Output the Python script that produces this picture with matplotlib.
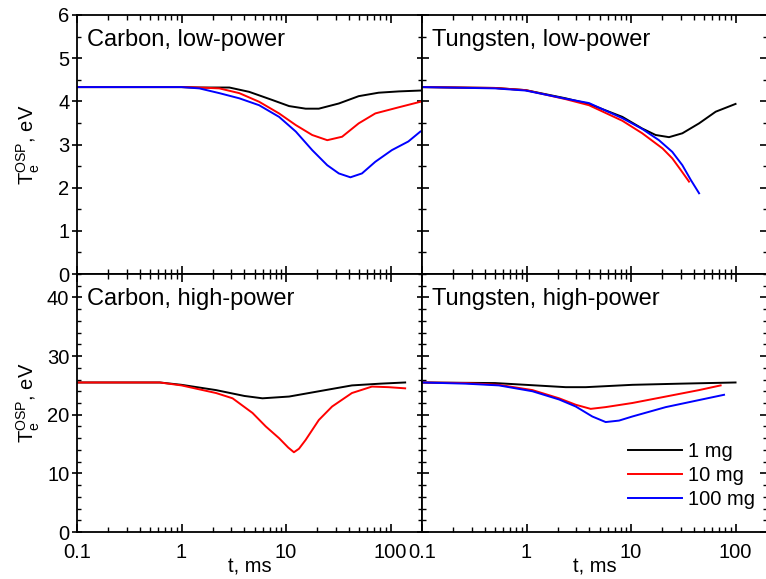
import matplotlib
matplotlib.use("Agg")
import matplotlib.pyplot as plt
from matplotlib.ticker import LogLocator, FixedLocator, MultipleLocator, NullFormatter, FixedFormatter

plt.rcParams['font.family'] = ['Liberation Sans', 'DejaVu Sans']
plt.rcParams['mathtext.fontset'] = 'custom'
plt.rcParams['mathtext.rm'] = 'Liberation Sans'
plt.rcParams['mathtext.it'] = 'Liberation Sans:italic'

labels = ["1 mg", "10 mg", "100 mg"]
colors = ["#000000", "#ff0000", "#0000ff"]

# Carbon, low-power
cl_t1 = [0.1, 1.0, 1.48, 2.87, 4.44, 7.41, 10.7, 15.4, 20.6, 32, 49.6, 76.9, 120, 193]
cl_T1 = [4.33, 4.33, 4.32, 4.32, 4.22, 4.03, 3.89, 3.83, 3.83, 3.95, 4.12, 4.20, 4.23, 4.25]
cl_t2 = [0.1, 1.0, 1.48, 2.30, 3.57, 5.53, 8.58, 12.4, 17.8, 24.8, 34.4, 49.6, 71.5, 119, 193]
cl_T2 = [4.33, 4.33, 4.32, 4.30, 4.19, 3.99, 3.72, 3.45, 3.22, 3.10, 3.18, 3.49, 3.72, 3.86, 3.99]
cl_t3 = [0.1, 1.0, 1.48, 2.30, 3.57, 5.53, 8.58, 12.4, 17.8, 24.8, 32, 41.3, 53.3, 71.5, 103, 148, 193]
cl_T3 = [4.33, 4.33, 4.30, 4.19, 4.07, 3.91, 3.64, 3.30, 2.87, 2.52, 2.33, 2.24, 2.33, 2.60, 2.87, 3.07, 3.30]

# Tungsten, low-power
wl_t1 = [0.1, 0.5, 0.98, 2.37, 3.96, 8.26, 12.8, 17.2, 23.1, 31.0, 44.8, 64.6, 100]
wl_T1 = [4.33, 4.31, 4.26, 4.07, 3.94, 3.64, 3.37, 3.22, 3.17, 3.26, 3.49, 3.76, 3.94]
wl_t2 = [0.1, 0.5, 0.98, 2.37, 3.96, 8.26, 12.8, 20.0, 24.8, 29.9, 35.9]
wl_T2 = [4.33, 4.31, 4.26, 4.05, 3.91, 3.55, 3.26, 2.91, 2.68, 2.41, 2.14]
wl_t3 = [0.1, 0.5, 0.98, 2.37, 3.96, 8.26, 12.8, 18.5, 24.8, 31.0, 37.3, 44.8]
wl_T3 = [4.33, 4.30, 4.25, 4.06, 3.96, 3.61, 3.36, 3.10, 2.83, 2.52, 2.18, 1.87]

# Carbon, high-power
ch_t1 = [0.1, 0.62, 1.0, 2.14, 4.0, 5.95, 10.7, 20.6, 42.7, 80, 138]
ch_T1 = [25.5, 25.5, 25.1, 24.2, 23.2, 22.8, 23.1, 24.0, 25.0, 25.3, 25.5]
ch_t2 = [0.1, 0.62, 1.0, 2.14, 3.08, 4.78, 6.4, 8.58, 10.5, 11.9, 13.3, 15.4, 20.6, 27.6, 42.7, 66.4, 95.7, 138]
ch_T2 = [25.5, 25.5, 25.0, 23.7, 22.8, 20.3, 18.0, 16.0, 14.4, 13.6, 14.2, 15.7, 19.1, 21.4, 23.7, 24.8, 24.7, 24.5]

# Tungsten, high-power
wh_t1 = [0.1, 0.5, 0.98, 2.37, 3.69, 10.3, 30.0, 100]
wh_T1 = [25.5, 25.4, 25.1, 24.7, 24.7, 25.1, 25.3, 25.5]
wh_t2 = [0.1, 0.262, 0.545, 1.14, 2.05, 2.96, 4.11, 5.72, 10.3, 21.5, 44.7, 72]
wh_T2 = [25.5, 25.4, 25.1, 24.2, 22.8, 21.7, 21.0, 21.3, 22.0, 23.1, 24.2, 25.0]
wh_t3 = [0.1, 0.262, 0.545, 1.14, 2.05, 2.96, 4.26, 5.72, 7.68, 10.3, 21.5, 44.7, 77.6]
wh_T3 = [25.5, 25.3, 25.0, 24.0, 22.6, 21.4, 19.7, 18.75, 19.0, 19.7, 21.3, 22.5, 23.4]

titles = ["Carbon, low-power", "Tungsten, low-power", "Carbon, high-power", "Tungsten, high-power"]
xticks = [0.1, 1, 10, 100]
xticklabels = ["0.1", "1", "10", "100"]

W, H = 766, 579
fig = plt.figure(figsize=(W / 100, H / 100), dpi=100)

def frac(x0, y0, x1, y1):
    return [x0 / W, 1 - y1 / H, (x1 - x0) / W, (y1 - y0) / H]

axes = [
    fig.add_axes(frac(77, 15, 422, 274)),
    fig.add_axes(frac(422, 15, 767, 274)),
    fig.add_axes(frac(77, 274, 422, 532)),
    fig.add_axes(frac(422, 274, 767, 532)),
]

data = [
    [(cl_t1, cl_T1), (cl_t2, cl_T2), (cl_t3, cl_T3)],
    [(wl_t1, wl_T1), (wl_t2, wl_T2), (wl_t3, wl_T3)],
    [(ch_t1, ch_T1), (ch_t2, ch_T2)],
    [(wh_t1, wh_T1), (wh_t2, wh_T2), (wh_t3, wh_T3)],
]

ylabel = r'$\mathregular{T_e^{OSP}}$, eV'

for i, ax in enumerate(axes):
    for j, (t, T) in enumerate(data[i]):
        ax.plot(t, T, color=colors[j], lw=1.4, label=labels[j])
    ax.set_xscale('log')
    ax.set_xlim(0.1, 200)
    ax.xaxis.set_major_locator(FixedLocator(xticks))
    ax.xaxis.set_minor_locator(LogLocator(base=10, subs=range(2, 10), numticks=20))
    ax.xaxis.set_minor_formatter(NullFormatter())
    if i < 2:
        ax.set_ylim(0, 6)
        ax.yaxis.set_major_locator(MultipleLocator(1))
        ax.yaxis.set_minor_locator(MultipleLocator(0.5))
        ax.set_xticklabels([])
    else:
        ax.set_ylim(0, 44)
        ax.yaxis.set_major_locator(MultipleLocator(10))
        ax.yaxis.set_minor_locator(MultipleLocator(2))
        ax.xaxis.set_major_formatter(FixedFormatter(xticklabels))
        ax.set_xlabel("t, ms", fontsize=14.5, labelpad=-3)
    ax.tick_params(axis='x', which='both', direction='in', top=True, bottom=True,
                   labelsize=14.5, pad=8)
    ax.tick_params(axis='x', which='major', length=6, width=1.2)
    ax.tick_params(axis='x', which='minor', length=3.5, width=1.0)
    ax.tick_params(axis='y', which='both', direction='in', left=True, right=True, labelsize=14.5)
    ax.tick_params(axis='y', which='major', length=5, width=1.2)
    ax.tick_params(axis='y', which='minor', length=3, width=1.0)
    if i % 2 == 0:
        ax.tick_params(axis='y', which='major', direction='inout', length=7, pad=2)
        ax.set_ylabel(ylabel, fontsize=14.5)
        ax.yaxis.set_label_coords(-0.10, 0.5)
    else:
        ax.set_yticklabels([])
    for s in ax.spines.values():
        s.set_linewidth(1.3)
    ax.text(0.029, 0.905, titles[i], transform=ax.transAxes, fontsize=17,
            ha='left', va='center')

axes[3].legend(loc='upper left', bbox_to_anchor=(0.597, 0.35), frameon=False,
               fontsize=14.5, handlelength=2.7, handletextpad=0.3,
               borderpad=0, borderaxespad=0, labelspacing=0.25)

fig.savefig("out.png", dpi=100)
